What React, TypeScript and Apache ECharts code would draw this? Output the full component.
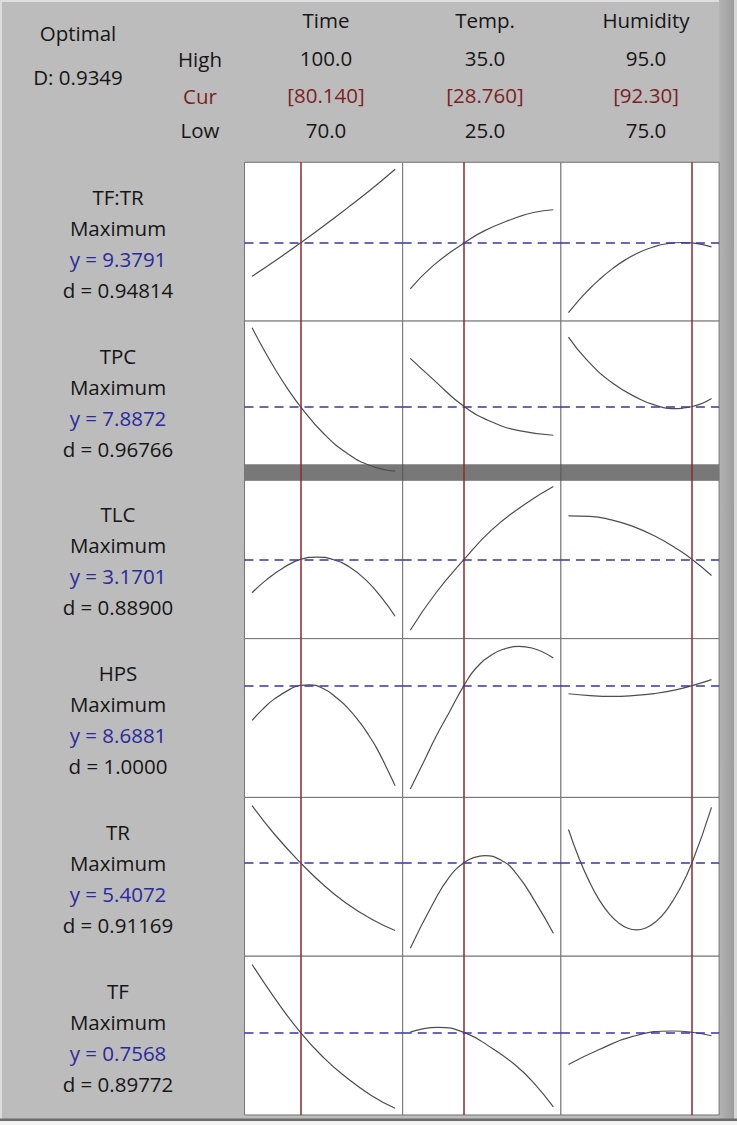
import { useEffect, useRef } from "react";
import * as echarts from "echarts";

// factors (columns)
const factorNames = ["Time", "Temp.", "Humidity"];
const factorHigh = [100.0, 35.0, 95.0];
const factorLow = [70.0, 25.0, 75.0];
const factorCur = [80.14, 28.76, 92.3];
const curLabels = ["[80.140]", "[28.760]", "[92.30]"];

// responses (rows)
const responseNames = ["TF:TR", "TPC", "TLC", "HPS", "TR", "TF"];
const responseGoals = ["Maximum", "Maximum", "Maximum", "Maximum", "Maximum", "Maximum"];
const predictedY = ["9.3791", "7.8872", "3.1701", "8.6881", "5.4072", "0.7568"];
const desirability = ["0.94814", "0.96766", "0.88900", "1.0000", "0.91169", "0.89772"];
const compositeD = "0.9349";

// response level at the optimum, on each row's relative 0-100 scale
const optimalLevel = [49.2, 46.2, 49.9, 70.6, 58.9, 52.0];

// traces [factor value, relative response]
const tftrTime = [[70, 28.2], [75, 38.3], [80.14, 49.2], [85, 59.9], [90, 71.3], [95, 83.0], [100, 95.6]];
const tftrTemp = [[25, 20.3], [26.6, 34.9], [28.76, 49.2], [30.1, 56.5], [32, 63.8], [33.6, 68.4], [35, 70.1]];
const tftrHum = [[75, 5.3], [76.2, 11.8], [77.5, 18.2], [79.3, 26.1], [81.2, 33.2], [83, 38.7], [85, 43.5], [87, 46.9], [88.7, 48.7], [90.8, 49.5], [92.3, 49.2], [95, 46.7]];

const tpcTime = [[70, 95.8], [72.5, 81.8], [75, 68.9], [77.5, 57.2], [80.14, 46.2], [85, 29.2], [90, 16.6], [95, 8.7], [100, 5.5]];
const tpcTemp = [[25, 76.5], [26.6, 63.3], [28.76, 46.2], [30.8, 36.1], [32.7, 30.8], [35, 28.1]];
const tpcHum = [[75, 89.9], [77.5, 75.9], [81.2, 60.8], [85, 50.8], [87.2, 47.0], [89.4, 44.9], [92.3, 46.2], [95, 51.2]];

const tlcTime = [[70, 28.9], [73, 37.0], [76.5, 44.5], [80.14, 49.9], [83.7, 51.4], [87, 49.8], [90.5, 45.0], [94, 36.5], [97, 26.5], [100, 14.1]];
const tlcTemp = [[25, 5.3], [26.8, 28.9], [28.76, 49.9], [30.7, 68.5], [33.06, 84.9], [35, 95.8]];
const tlcHum = [[75, 77.3], [78, 77.0], [81, 74.8], [84, 70.7], [87, 64.8], [90, 57.0], [92.3, 49.9], [95, 39.8]];

const hpsTime = [[70, 48.5], [72.3, 55.8], [74.5, 61.6], [78, 68.2], [80.14, 70.6], [82, 70.9], [85, 68.4], [87.7, 62.8], [90, 56.6], [92.6, 47.2], [94.5, 39.0], [96.1, 31.2], [98, 20.0], [100, 7.4]];
const hpsTemp = [[25, 5.3], [25.9, 21.7], [26.8, 38.4], [27.7, 53.2], [28.76, 70.6], [29.6, 81.5], [30.7, 89.9], [31.6, 93.6], [32.6, 95.1], [33.5, 94.1], [35, 87.8]];
const hpsHum = [[75, 65.3], [78, 64.1], [81, 63.6], [84, 64.1], [87, 65.4], [90, 67.7], [92.3, 70.4], [95, 74.2]];

const trTime = [[70, 94.8], [74.7, 76.8], [80.14, 58.9], [85, 44.8], [89.4, 34.2], [95, 23.4], [100, 16.2]];
const trTemp = [[25, 5.0], [26.6, 33.3], [27.7, 49.5], [28.76, 58.9], [29.5, 62.2], [30.2, 63.3], [31.3, 60.7], [32.4, 52.2], [33.8, 33.3], [35, 14.5]];
const trHum = [[75, 79.8], [76.5, 61.4], [78, 46.2], [79.3, 35.5], [80.7, 26.7], [82, 21.0], [83.3, 17.6], [84.5, 16.6], [85.8, 17.8], [87.2, 21.7], [88.7, 28.9], [90.5, 41.8], [92.3, 59.2], [95, 93.7]];

const tfTime = [[70, 94.8], [74.7, 73.8], [80.14, 52.0], [85, 36.1], [89.4, 24.5], [95, 12.3], [100, 4.2]];
const tfTemp = [[25, 52.2], [26.9, 55.2], [28.76, 52.0], [30.8, 41.5], [32.4, 31.0], [33.6, 20.5], [35, 5.1]];
const tfHum = [[75, 31.8], [79.3, 41.2], [84, 49.5], [89.6, 52.9], [92.3, 52.1], [95, 49.9]];

const traces = [
  [tftrTime, tftrTemp, tftrHum],
  [tpcTime, tpcTemp, tpcHum],
  [tlcTime, tlcTemp, tlcHum],
  [hpsTime, hpsTemp, hpsHum],
  [trTime, trTemp, trHum],
  [tfTime, tfTemp, tfHum],
];

// layout
const W = 737;
const H = 1125;
const PLOT_LEFT = 244.5;
const COL_W = 158.2;
const PLOT_TOP = 162.3;
const ROW_H = 158.78;
const PAD_X = 0.053;
const HEAD_X = [326, 485, 646];
const FONT = '"Open Sans", "Noto Sans", sans-serif';
const INK = "#161616";
const CUR_RED = "#7d1f1f";
const Y_BLUE = "#2a2a9c";

function txt(text: string, x: number, y: number, fill = INK) {
  return {
    type: "text",
    x,
    y,
    z: 10,
    silent: true,
    style: { text, fill, fontSize: 20.5, fontFamily: FONT, align: "center", verticalAlign: "middle" },
  };
}

export default function App() {
  const ref = useRef<HTMLDivElement>(null);

  useEffect(() => {
    if (!ref.current) return;
    const chart = echarts.init(ref.current, undefined, { renderer: "svg" });

    const grids: any[] = [];
    const xAxes: any[] = [];
    const yAxes: any[] = [];
    const series: any[] = [];

    responseNames.forEach((_, r) => {
      factorNames.forEach((__, c) => {
        const i = r * 3 + c;
        const range = factorHigh[c] - factorLow[c];
        grids.push({
          left: PLOT_LEFT + c * COL_W,
          top: PLOT_TOP + r * ROW_H,
          width: COL_W,
          height: ROW_H,
          show: true,
          backgroundColor: "#ffffff",
          borderColor: "#747474",
          borderWidth: 1,
        });
        xAxes.push({
          type: "value",
          gridIndex: i,
          min: factorLow[c] - PAD_X * range,
          max: factorHigh[c] + PAD_X * range,
          show: false,
        });
        yAxes.push({ type: "value", gridIndex: i, min: 0, max: 100, show: false });
        series.push({
          type: "line",
          xAxisIndex: i,
          yAxisIndex: i,
          data: traces[r][c],
          smooth: 0.5,
          showSymbol: false,
          symbol: "none",
          silent: true,
          z: 3,
          lineStyle: { color: "#4d4d4d", width: 1.2 },
          markLine: {
            silent: true,
            symbol: ["none", "none"],
            label: { show: false },
            animation: false,
            data: [
              { xAxis: factorCur[c], lineStyle: { color: "#8a2a2a", width: 1.5, type: "solid" } },
              { yAxis: optimalLevel[r], lineStyle: { color: "#3636aa", width: 1.5, type: [9, 6] } },
            ],
          },
        });
      });
    });

    const graphic: any[] = [
      { type: "rect", z: -1, shape: { x: 0, y: 0, width: W, height: 1120 }, style: { fill: "#bcbcbc" } },
      { type: "rect", z: -1, shape: { x: 0, y: 0, width: W, height: 2 }, style: { fill: "#dedede" } },
      { type: "rect", z: -1, shape: { x: 0, y: 0, width: 2, height: 1120 }, style: { fill: "#dcdcdc" } },
      {
        type: "rect",
        z: -1,
        shape: { x: 719, y: 0, width: 15, height: 1120 },
        style: {
          fill: new echarts.graphic.LinearGradient(0, 0, 1, 0, [
            { offset: 0, color: "#b4b4b4" },
            { offset: 1, color: "#9c9c9c" },
          ]),
        },
      },
      { type: "rect", z: -1, shape: { x: 734, y: 0, width: 3, height: 1120 }, style: { fill: "#d6d6d6" } },
      { type: "rect", z: -1, shape: { x: 0, y: 1118.5, width: W, height: 2.5 }, style: { fill: "#6c6c6c" } },
      // separator bar
      {
        type: "rect",
        z: 1,
        shape: { x: PLOT_LEFT, y: 464.3, width: COL_W * 3, height: 16.4 },
        style: { fill: "#787878" },
      },
      ...[1, 2].map((c) => ({
        type: "line",
        z: 1,
        shape: { x1: PLOT_LEFT + c * COL_W, y1: 464.3, x2: PLOT_LEFT + c * COL_W, y2: 480.7 },
        style: { stroke: "#555555", lineWidth: 1 },
      })),
      txt("Optimal", 78, 33),
      txt("D: " + compositeD, 78, 77),
      txt("High", 200, 59),
      txt("Cur", 200, 96, CUR_RED),
      txt("Low", 200, 130),
    ];

    factorNames.forEach((name, c) => {
      graphic.push(txt(name, HEAD_X[c], 20));
      graphic.push(txt(factorHigh[c].toFixed(1), HEAD_X[c], 58));
      graphic.push(txt(curLabels[c], HEAD_X[c], 95, CUR_RED));
      graphic.push(txt(factorLow[c].toFixed(1), HEAD_X[c], 130));
    });

    responseNames.forEach((name, r) => {
      const y0 = PLOT_TOP + r * ROW_H + 34.5;
      graphic.push(txt(name, 118, y0));
      graphic.push(txt(responseGoals[r], 118, y0 + 31));
      graphic.push(txt("y = " + predictedY[r], 118, y0 + 62, Y_BLUE));
      graphic.push(txt("d = " + desirability[r], 118, y0 + 93));
    });

    chart.setOption({
      animation: false,
      backgroundColor: "#f3f3f3",
      grid: grids,
      xAxis: xAxes,
      yAxis: yAxes,
      series,
      graphic,
    });

    return () => chart.dispose();
  }, []);

  return <div ref={ref} style={{ position: "absolute", left: 0, top: 0, width: W, height: H }} />;
}
